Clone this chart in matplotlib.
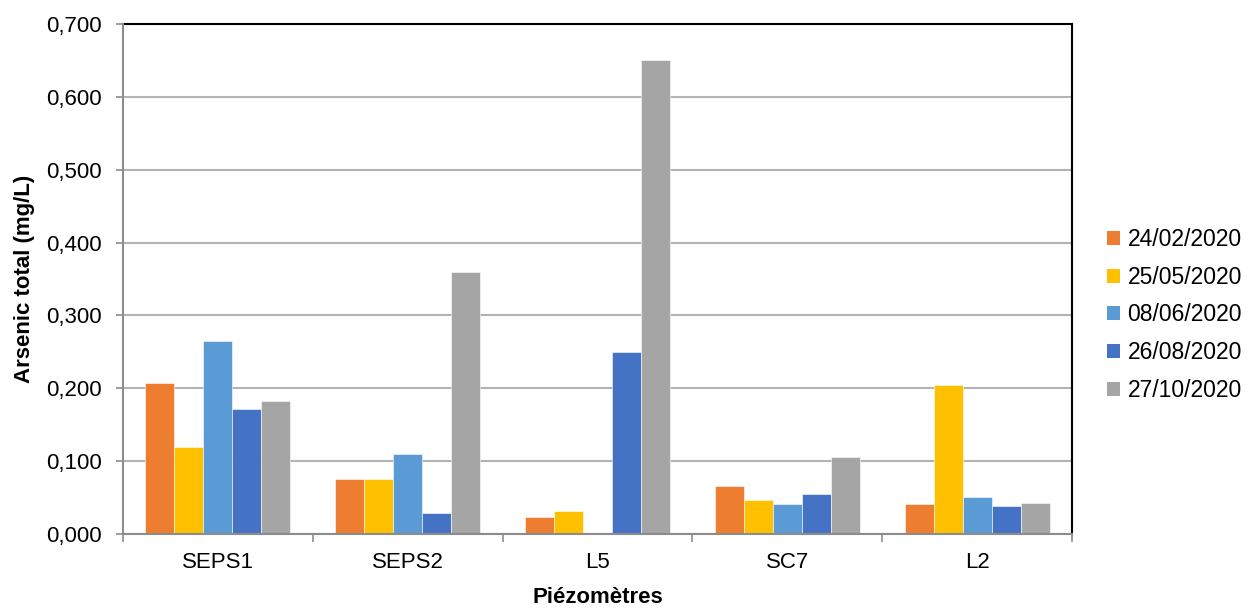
import numpy as np
import matplotlib
matplotlib.use("Agg")
import matplotlib.pyplot as plt
from matplotlib.patches import Patch
from matplotlib.ticker import FixedLocator, FuncFormatter

plt.rcParams['font.family'] = ['Liberation Sans', 'DejaVu Sans']

# data
piezometres = ["SEPS1", "SEPS2", "L5", "SC7", "L2"]
dates = ["24/02/2020", "25/05/2020", "08/06/2020", "26/08/2020", "27/10/2020"]
v_2402 = [0.207, 0.076, 0.024, 0.066, 0.041]
v_2505 = [0.120, 0.075, 0.032, 0.047, 0.204]
v_0806 = [0.265, 0.110, np.nan, 0.041, 0.051]
v_2608 = [0.171, 0.029, 0.250, 0.055, 0.039]
v_2710 = [0.183, 0.360, 0.650, 0.106, 0.042]
series = [v_2402, v_2505, v_0806, v_2608, v_2710]
colors = ["#ED7D31", "#FFC000", "#5B9BD5", "#4472C4", "#A5A5A5"]

fig = plt.figure(figsize=(12.48, 6.08), dpi=100)
ax = fig.add_axes([123 / 1248, 74 / 608, 949 / 1248, 510 / 608])

x = np.arange(len(piezometres))
w = 0.1526
for i, (vals, c) in enumerate(zip(series, colors)):
    ax.bar(x + (i - 2) * w, vals, width=w, color=c, edgecolor="white",
           linewidth=0.4, zorder=3)

ax.set_xlim(-0.5, len(piezometres) - 0.5)
ax.set_ylim(0, 0.7)
ax.set_yticks(np.arange(0, 0.71, 0.1))
ax.yaxis.set_major_formatter(FuncFormatter(lambda v, p: f"{v:.3f}".replace(".", ",")))
ax.grid(axis="y", color="#B3B3B3", linewidth=1.5, zorder=0)

ax.set_xticks(x)
ax.set_xticklabels(piezometres, fontsize=16)
ax.xaxis.set_minor_locator(FixedLocator(np.arange(-0.5, len(piezometres), 1)))
ax.tick_params(axis="x", which="major", length=0, pad=13)
ax.tick_params(axis="x", which="minor", length=6, width=1.2, color="#8C8C8C")
ax.tick_params(axis="y", length=5, width=1.2, color="#8C8C8C", labelsize=16, pad=10)

for s in ["left", "bottom"]:
    ax.spines[s].set_color("#8C8C8C")
    ax.spines[s].set_linewidth(1.5)
    ax.spines[s].set_zorder(4)
for s in ["top", "right"]:
    ax.spines[s].set_color("black")
    ax.spines[s].set_linewidth(1.5)

ax.set_ylabel("Arsenic total (mg/L)", fontsize=16, fontweight="bold", labelpad=8)
ax.set_xlabel("Piézomètres", fontsize=16, fontweight="bold", labelpad=10)

handles = [Patch(facecolor=c, edgecolor="none") for c in colors]
fig.legend(handles, dates, loc="center left", bbox_to_anchor=(1107 / 1248, 293 / 608),
           frameon=False, fontsize=16.5, handlelength=0.55, handleheight=0.55,
           handletextpad=0.35, labelspacing=0.64, borderpad=0, borderaxespad=0)

fig.savefig("out.png", dpi=100)
